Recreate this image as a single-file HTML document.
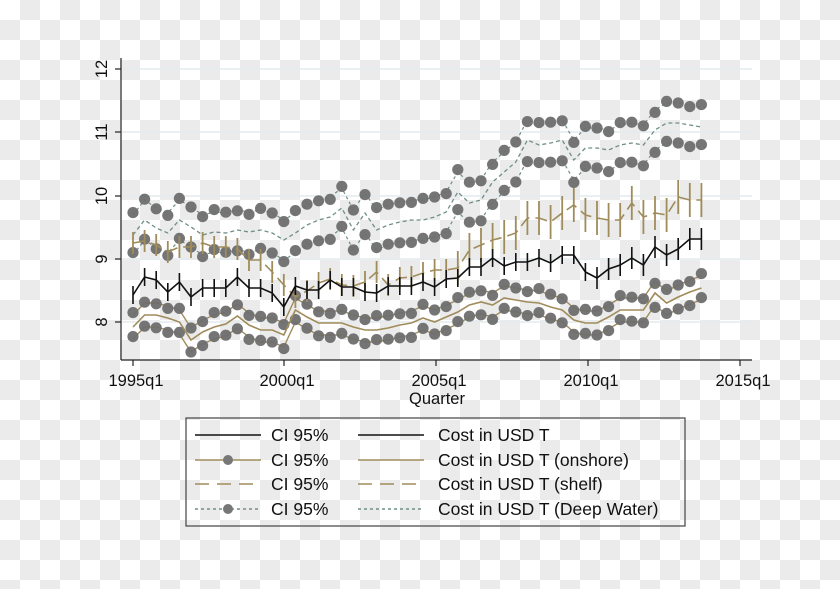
<!DOCTYPE html>
<html><head><meta charset="utf-8"><style>
html,body{margin:0;padding:0}
body{width:840px;height:589px;overflow:hidden;background-color:#fff;
background-image:conic-gradient(#ebebeb 25%,#fff 0 50%,#ebebeb 0 75%,#fff 0);background-size:40px 40px}
svg{position:absolute;left:0;top:0}
text{font-family:"Liberation Sans",Arial,sans-serif;fill:#111}
</style></head><body>
<svg id="s" width="840" height="589" xmlns="http://www.w3.org/2000/svg">
<g stroke="#e4ecee" stroke-width="1.5">
<line x1="122" y1="69" x2="752" y2="69"/><line x1="122" y1="132" x2="752" y2="132"/>
<line x1="122" y1="196" x2="752" y2="196"/><line x1="122" y1="259" x2="752" y2="259"/>
<line x1="122" y1="322" x2="752" y2="322"/>
</g>
<g id="data"></g>
<g stroke="#222" stroke-width="1.2" fill="none">
<line x1="121" y1="58" x2="121" y2="360"/><line x1="121" y1="360" x2="752" y2="360"/>
<line x1="115" y1="69" x2="121" y2="69"/><line x1="115" y1="132" x2="121" y2="132"/>
<line x1="115" y1="196" x2="121" y2="196"/><line x1="115" y1="259" x2="121" y2="259"/>
<line x1="115" y1="322" x2="121" y2="322"/>
<line x1="133" y1="360" x2="133" y2="366"/><line x1="284" y1="360" x2="284" y2="366"/>
<line x1="436" y1="360" x2="436" y2="366"/><line x1="588" y1="360" x2="588" y2="366"/>
<line x1="740" y1="360" x2="740" y2="366"/>
</g>
<g font-size="16.5" text-anchor="middle">
<text transform="translate(107,69) rotate(-90)">12</text>
<text transform="translate(107,132) rotate(-90)">11</text>
<text transform="translate(107,196) rotate(-90)">10</text>
<text transform="translate(107,259) rotate(-90)">9</text>
<text transform="translate(107,322) rotate(-90)">8</text>
<text x="136" y="386">1995q1</text><text x="287" y="386">2000q1</text>
<text x="439" y="386">2005q1</text><text x="591" y="386">2010q1</text>
<text x="743" y="386">2015q1</text>
<text x="437" y="404">Quarter</text>
</g>
<rect x="186" y="418" width="499" height="108" fill="none" stroke="#444" stroke-width="1.2"/>
<g stroke-width="1.5">
<line x1="195" y1="435" x2="261" y2="435" stroke="#111"/>
<line x1="358" y1="435" x2="424" y2="435" stroke="#111"/>
<line x1="195" y1="460" x2="261" y2="460" stroke="#a08c5a"/>
<line x1="358" y1="460" x2="424" y2="460" stroke="#a08c5a"/>
<line x1="195" y1="484" x2="261" y2="484" stroke="#a08c5a" stroke-dasharray="14,8"/>
<line x1="358" y1="484" x2="424" y2="484" stroke="#a08c5a" stroke-dasharray="14,8"/>
<line x1="195" y1="509" x2="261" y2="509" stroke="#6f8f86" stroke-dasharray="3,3"/>
<line x1="358" y1="509" x2="424" y2="509" stroke="#6f8f86" stroke-dasharray="3,3"/>
</g>
<circle cx="228" cy="460" r="5" fill="#777"/><circle cx="228" cy="509" r="5" fill="#777"/>
<g font-size="17.5">
<text x="271" y="441">CI 95%</text><text x="438" y="441">Cost in USD T</text>
<text x="271" y="466">CI 95%</text><text x="438" y="466">Cost in USD T (onshore)</text>
<text x="271" y="490">CI 95%</text><text x="438" y="490">Cost in USD T (shelf)</text>
<text x="271" y="515">CI 95%</text><text x="438" y="515">Cost in USD T (Deep Water)</text>
</g>
</svg>
<script>
var blk=[295,277,280,292,282,297,288,288,288,277,288,288,293,307,286,290,290,280,287,287,292,293,286,286,286,282,287,279,278,267,267,258,266,262,262,258,263,255,255,272,278,269,265,258,265,247,255,249,239,239];
var shf=[243,241,245,252,247,247,243,247,247,249,260,260,272,285,297,291,283,279,285,286,282,272,285,278,277,273,270,270,268,250,245,240,237,233,218,218,222,213,205,215,218,220,220,203,217,213,215,197,200,200];
var ons=[327,315,315,318,322,340,332,327,324,316,325,330,330,335,310,317,323,323,323,327,330,330,328,325,323,318,322,317,312,305,302,305,298,300,302,303,307,310,320,323,323,317,310,310,310,293,303,297,292,288];
var dep=[235,220,228,233,220,227,235,232,233,230,232,230,233,240,233,225,220,217,208,230,213,230,225,222,220,220,217,212,192,203,200,182,172,162,140,145,143,140,160,148,148,150,145,143,145,130,123,123,125,127];
var X=function(i){return 133+i*11.6;};
var g=document.getElementById('data'),h='';
function pl(a,o,st){var p=a.map(function(v,i){return X(i).toFixed(1)+','+(v+o)}).join(' ');h+='<polyline points="'+p+'" fill="none" '+st+'/>';}
function dots(a,o){a.forEach(function(v,i){var j=((i*37)%7-3)*0.8;h+='<circle cx="'+X(i).toFixed(1)+'" cy="'+(v+o+j)+'" r="5.6" fill="#6e6e6e" fill-opacity="0.95"/>';});}
pl(dep,0,'stroke="#6f8f86" stroke-width="1.3" stroke-dasharray="4,3"');
pl(dep,-20,'stroke="#6f8f86" stroke-width="1.2" stroke-dasharray="3,3"');
pl(dep,20,'stroke="#6f8f86" stroke-width="1.2" stroke-dasharray="3,3"');
dots(dep,-20);dots(dep,20);
pl(ons,-12,'stroke="#a08c5a" stroke-width="1.4"');pl(ons,12,'stroke="#a08c5a" stroke-width="1.4"');
dots(ons,-12);dots(ons,12);
pl(ons,0,'stroke="#a08c5a" stroke-width="1.6"');
pl(shf,0,'stroke="#a08c5a" stroke-width="1.6" stroke-dasharray="12,6"');
shf.forEach(function(v,i){var e=i<28?11:17;h+='<line x1="'+X(i)+'" y1="'+(v-e)+'" x2="'+X(i)+'" y2="'+(v+e)+'" stroke="#a08c5a" stroke-width="1.8"/>';});
pl(blk,0,'stroke="#111" stroke-width="1.6"');
blk.forEach(function(v,i){var e=i<40?9:11;h+='<line x1="'+X(i)+'" y1="'+(v-e)+'" x2="'+X(i)+'" y2="'+(v+e)+'" stroke="#111" stroke-width="1.6"/>';});
g.innerHTML=h;
</script>
</body></html>
